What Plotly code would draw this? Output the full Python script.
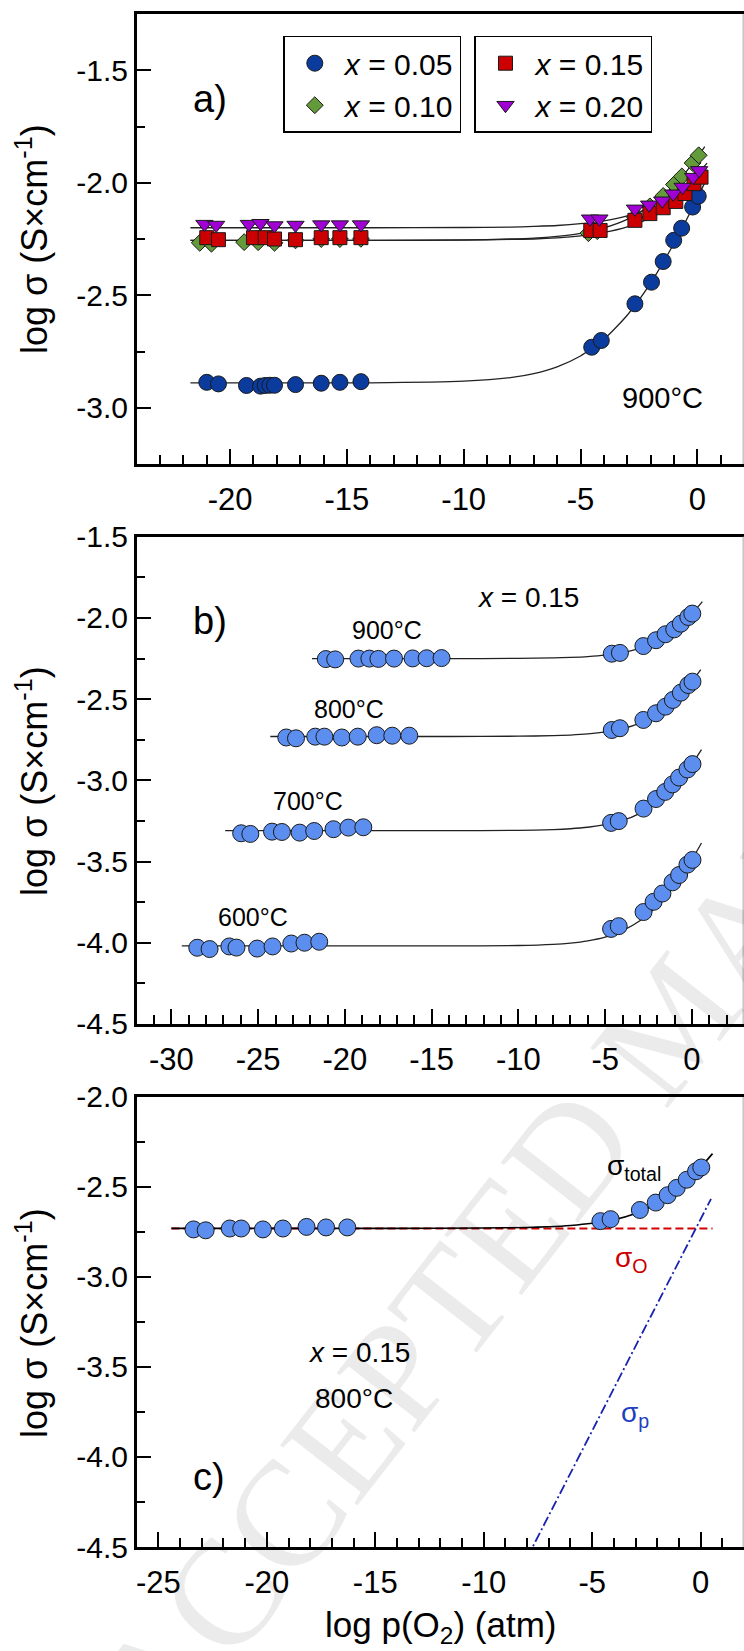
import plotly.graph_objects as go

W, H = 744, 1651
FONT = "Liberation Sans, Arial, Helvetica, sans-serif"

# ---------------- Panel a: 900 C, different x ----------------
a005_x = [-21.0, -20.5, -19.3, -18.7, -18.5, -18.3, -18.1, -17.2, -16.1, -15.3, -14.4,
          -4.52, -4.11, -2.67, -1.96, -1.46, -1.01, -0.67, -0.20, 0.04]
a005_y = [-2.887, -2.894, -2.901, -2.904, -2.901, -2.900, -2.900, -2.897, -2.891, -2.887, -2.884,
          -2.731, -2.701, -2.538, -2.442, -2.350, -2.256, -2.202, -2.108, -2.060]
a010_x = [-21.3, -20.8, -19.4, -18.8, -18.1, -17.2, -16.1, -15.3, -14.4,
          -4.66, -4.28, -2.67, -2.03, -1.46, -1.00, -0.66, -0.20, 0.06]
a010_y = [-2.267, -2.271, -2.264, -2.264, -2.267, -2.256, -2.250, -2.250, -2.249,
          -2.224, -2.215, -2.153, -2.105, -2.059, -2.008, -1.972, -1.912, -1.878]
a015_x = [-21.0, -20.5, -19.0, -18.5, -18.1, -17.2, -16.1, -15.3, -14.4,
          -4.56, -4.16, -2.67, -2.03, -1.46, -0.92, -0.53, -0.14, 0.16]
a015_y = [-2.244, -2.253, -2.244, -2.244, -2.250, -2.253, -2.244, -2.244, -2.244,
          -2.212, -2.212, -2.167, -2.137, -2.111, -2.083, -2.048, -2.004, -1.975]
a020_x = [-21.1, -20.6, -19.2, -18.7, -18.1, -17.2, -16.1, -15.3, -14.4,
          -4.59, -4.19, -2.67, -2.06, -1.50, -1.03, -0.63, -0.18, 0.08]
a020_y = [-2.184, -2.188, -2.184, -2.180, -2.190, -2.188, -2.186, -2.186, -2.186,
          -2.160, -2.160, -2.116, -2.098, -2.080, -2.049, -2.019, -1.975, -1.945]

# fitted curves
afit_x = [-21.7, -14, -10, -8, -7, -6, -5, -4, -3, -2, -1, -0.5, 0]
afit005_y = [-2.889, -2.889, -2.882, -2.866, -2.848, -2.818, -2.770, -2.696, -2.589, -2.446, -2.270, -2.172, -2.069, -2.004]
afit010_y = [-2.256, -2.256, -2.254, -2.250, -2.246, -2.238, -2.225, -2.201, -2.163, -2.103, -2.012, -1.954, -1.887, -1.839]
afit015_y = [-2.256, -2.256, -2.255, -2.252, -2.250, -2.245, -2.236, -2.221, -2.196, -2.155, -2.090, -2.046, -1.994, -1.943]
afit020_y = [-2.200, -2.200, -2.199, -2.197, -2.194, -2.190, -2.182, -2.169, -2.147, -2.109, -2.050, -2.009, -1.961, -1.913]
afit_end = {"005": 0.3, "010": 0.32, "015": 0.42, "020": 0.42}

# ---------------- Panel b: x = 0.15, four temperatures ----------------
b900_x = [-21.10, -20.56, -19.22, -18.59, -18.07, -17.17, -16.10, -15.29, -14.43,
          -4.62, -4.15, -2.80, -2.07, -1.52, -1.02, -0.64, -0.21, 0.02]
b900_y = [-2.253, -2.255, -2.250, -2.250, -2.252, -2.250, -2.249, -2.248, -2.247,
          -2.220, -2.215, -2.173, -2.137, -2.100, -2.070, -2.035, -1.994, -1.973]
b800_x = [-23.38, -22.82, -21.71, -21.18, -20.18, -19.26, -18.17, -17.27, -16.29,
          -4.62, -4.15, -2.80, -2.07, -1.52, -1.10, -0.64, -0.21, 0.03]
b800_y = [-2.736, -2.741, -2.731, -2.731, -2.736, -2.731, -2.722, -2.725, -2.725,
          -2.690, -2.679, -2.628, -2.587, -2.546, -2.505, -2.460, -2.413, -2.392]
b700_x = [-25.98, -25.45, -24.20, -23.63, -22.61, -21.77, -20.66, -19.80, -18.94,
          -4.66, -4.22, -2.79, -2.07, -1.54, -1.12, -0.74, -0.26, 0.03]
b700_y = [-3.326, -3.330, -3.316, -3.318, -3.322, -3.312, -3.301, -3.291, -3.289,
          -3.262, -3.251, -3.174, -3.115, -3.071, -3.025, -2.983, -2.933, -2.900]
b600_x = [-28.51, -27.80, -26.66, -26.25, -25.06, -24.17, -23.09, -22.33, -21.48,
          -4.66, -4.22, -2.79, -2.21, -1.70, -1.12, -0.74, -0.26, 0.03]
b600_y = [-4.031, -4.039, -4.023, -4.030, -4.036, -4.023, -4.005, -4.000, -3.994,
          -3.915, -3.898, -3.811, -3.748, -3.697, -3.628, -3.583, -3.519, -3.490]

bfit_x = [-14, -10, -8, -7, -6, -5, -4, -3, -2, -1, -0.5, 0]
bfit900 = dict(start=-21.9, end=0.60,
               y=[-2.250, -2.250, -2.249, -2.246, -2.243, -2.238, -2.229, -2.213, -2.187, -2.143, -2.075, -2.030, -1.975, -1.899])
bfit800 = dict(start=-24.3, end=0.51,
               y=[-2.730, -2.730, -2.728, -2.725, -2.721, -2.714, -2.702, -2.682, -2.647, -2.592, -2.509, -2.455, -2.391, -2.318])
bfit700 = dict(start=-26.9, end=0.55,
               y=[-3.310, -3.310, -3.308, -3.303, -3.298, -3.289, -3.273, -3.247, -3.203, -3.135, -3.035, -2.972, -2.900, -2.811])
bfit600 = dict(start=-29.4, end=0.55,
               y=[-4.020, -4.020, -4.017, -4.010, -4.002, -3.988, -3.965, -3.926, -3.865, -3.774, -3.648, -3.572, -3.488, -3.386])

# ---------------- Panel c: x = 0.15, 800 C, components ----------------
c_x = b800_x
c_y = b800_y
ctot_x = [-24.4, -14, -10, -8, -7, -6, -5, -4, -3, -2, -1, -0.5, 0, 0.55]
ctot_y = [-2.730, -2.730, -2.728, -2.725, -2.721, -2.714, -2.702, -2.682, -2.647, -2.592, -2.509, -2.455, -2.391, -2.315]
cO_x = [-24.4, 0.55]
cO_y = [-2.731, -2.731]
cp_x = [-8.0, 0.48]
cp_y = [-4.56, -2.566]

# tick labels
a_xt = [-20, -15, -10, -5, 0]
a_yt = [-3.0, -2.5, -2.0, -1.5]
b_xt = [-30, -25, -20, -15, -10, -5, 0]
b_yt = [-4.5, -4.0, -3.5, -3.0, -2.5, -2.0, -1.5]
c_xt = [-25, -20, -15, -10, -5, 0]
c_yt = [-4.5, -4.0, -3.5, -3.0, -2.5, -2.0]

C_BLUE = "#0b3b9c"
C_GREEN = "#639a3a"
C_RED = "#cc0000"
C_PURPLE = "#a000d4"
C_LIGHT = "#5b8eee"
EDGE = "#1a1a1a"
FITC = "#222222"

fig = go.Figure()


def fit(x, y, xa, ya, width=1.3, color=FITC):
    fig.add_trace(go.Scatter(x=x, y=y, mode="lines", xaxis=xa, yaxis=ya,
                             line=dict(color=color, width=width, shape="spline", smoothing=0.6),
                             showlegend=False, hoverinfo="skip"))


def pts(x, y, xa, ya, color, symbol, size, name=None, legend=None):
    fig.add_trace(go.Scatter(x=x, y=y, mode="markers", xaxis=xa, yaxis=ya, name=name,
                             marker=dict(color=color, symbol=symbol, size=size,
                                         line=dict(color=EDGE, width=1)),
                             showlegend=name is not None, legend=legend))


# panel a curves
fit(afit_x + [afit_end["005"]], afit005_y, "x", "y")
fit(afit_x + [afit_end["010"]], afit010_y, "x", "y")
fit(afit_x + [afit_end["015"]], afit015_y, "x", "y")
fit(afit_x + [afit_end["020"]], afit020_y, "x", "y")
pts(a005_x, a005_y, "x", "y", C_BLUE, "circle", 16, "<i>x</i> = 0.05", "legend")
pts(a010_x, a010_y, "x", "y", C_GREEN, "diamond", 13, "<i>x</i> = 0.10", "legend")
pts(a015_x, a015_y, "x", "y", C_RED, "square", 14, "<i>x</i> = 0.15", "legend2")
pts(a020_x, a020_y, "x", "y", C_PURPLE, "triangle-down", 15, "<i>x</i> = 0.20", "legend2")
# panel b
for f in [bfit900, bfit800, bfit700, bfit600]:
    fit([f["start"]] + bfit_x + [f["end"]], f["y"], "x2", "y2")
for bx, by in [(b900_x, b900_y), (b800_x, b800_y), (b700_x, b700_y), (b600_x, b600_y)]:
    pts(bx, by, "x2", "y2", C_LIGHT, "circle", 17)
# panel c
fig.add_trace(go.Scatter(x=cO_x, y=cO_y, mode="lines", xaxis="x3", yaxis="y3",
                         line=dict(color="#d40000", width=2, dash="8px,4px"), showlegend=False))
fig.add_trace(go.Scatter(x=cp_x, y=cp_y, mode="lines", xaxis="x3", yaxis="y3",
                         line=dict(color="#1a22b0", width=1.8, dash="10px,3px,2px,3px"), showlegend=False))
fit(ctot_x, ctot_y, "x3", "y3", width=1.6, color="black")
pts(c_x, c_y, "x3", "y3", C_LIGHT, "circle", 17)


def xax(rng, tv, anchor):
    return dict(domain=[136.7 / W, 1.0], range=rng, anchor=anchor,
                tickmode="array", tickvals=tv, ticktext=["%d" % v for v in tv],
                ticks="inside", ticklen=15, tickwidth=2, tickcolor="black",
                minor=dict(dtick=1, tick0=0, ticks="inside", ticklen=9, tickwidth=1.6, tickcolor="black"),
                showline=True, linewidth=2.5, linecolor="black", mirror=True,
                showgrid=False, zeroline=False, ticklabelstandoff=6,
                tickfont=dict(family=FONT, size=31, color="black"))


def yax(domain_y, rng, tv, anchor):
    return dict(domain=domain_y, range=rng, anchor=anchor,
                tickmode="array", tickvals=tv, ticktext=["%.1f" % v for v in tv],
                ticks="inside", ticklen=15, tickwidth=2, tickcolor="black",
                minor=dict(dtick=0.25, tick0=0, ticks="inside", ticklen=9, tickwidth=1.6, tickcolor="black"),
                showline=True, linewidth=2.5, linecolor="black", mirror=False,
                showgrid=False, zeroline=False,
                tickfont=dict(family=FONT, size=30, color="black"))


def dom(top, bottom):
    return [1 - bottom / H, 1 - top / H]


da = dom(14, 464)
db = dom(536.8, 1023.9)
dc = dom(1096.9, 1547)

fig.update_layout(
    xaxis=xax([-24, 2], a_xt, "y"), yaxis=yax(da, [-3.25, -1.25], a_yt, "x"),
    xaxis2=xax([-32, 3], b_xt, "y2"), yaxis2=yax(db, [-4.5, -1.5], b_yt, "x2"),
    xaxis3=xax([-26, 2], c_xt, "y3"), yaxis3=yax(dc, [-4.5, -2.0], c_yt, "x3"),
)

# faint right border (cut-off right frame)
shapes = []
for d in (da, db, dc):
    shapes.append(dict(type="line", xref="paper", yref="paper", x0=743.2 / W, x1=743.2 / W,
                       y0=d[0], y1=d[1], line=dict(color="#c4c4c4", width=1.5)))


def ann(text, px, py, size, color="black", **kw):
    d = dict(text=text, x=px / W, y=1 - py / H, xref="paper", yref="paper", showarrow=False,
             font=dict(family=FONT, size=size, color=color), xanchor="center", yanchor="middle")
    d.update(kw)
    return d


ytitle = "log σ (S×cm<sup>-1</sup>)"
annotations = [
    dict(text="ACCEPTED MANUSCRIPT", x=672 / W, y=1 - 1020 / H, xref="paper", yref="paper",
         showarrow=False, textangle=-52, xanchor="center", yanchor="middle",
         font=dict(family="Liberation Serif, Times New Roman, serif", size=150, color="rgba(0,0,0,0.08)")),
    ann("a)", 210, 99, 38), ann("b)", 210, 621, 38), ann("c)", 209, 1477, 38),
    ann("900°C", 662, 398, 29),
    ann("<i>x</i> = 0.15", 528, 597, 28),
    ann("900°C", 387, 630, 25), ann("800°C", 349, 709, 25),
    ann("700°C", 308, 801, 25), ann("600°C", 253, 917, 25),
    ann("σ<sub>total</sub>", 634, 1167, 28),
    ann("σ<sub>O</sub>", 631, 1259, 28, color="#cc0000"),
    ann("σ<sub>p</sub>", 635, 1414, 28, color="#1f3fbf"),
    ann("<i>x</i> = 0.15", 359, 1352, 28), ann("800°C", 354, 1398, 28),
    ann(ytitle, 32, 239, 36, textangle=-90),
    ann(ytitle, 32, 781, 36, textangle=-90),
    ann(ytitle, 32, 1323, 36, textangle=-90),
    ann("log p(O<sub>2</sub>) (atm)", 440, 1627, 35),
]

legend_common = dict(xanchor="left", yanchor="top", bordercolor="black", borderwidth=1.5,
                     bgcolor="white", font=dict(family=FONT, size=30, color="black"),
                     itemwidth=50, tracegroupgap=0)
fig.update_layout(
    width=W, height=H, margin=dict(l=0, r=0, t=0, b=0, autoexpand=False),
    paper_bgcolor="white", plot_bgcolor="white",
    annotations=annotations, shapes=shapes,
    legend=dict(x=283.3 / W, y=1 - 35.7 / H, **legend_common),
    legend2=dict(x=474 / W, y=1 - 35.7 / H, **legend_common),
    font=dict(family=FONT, color="black"),
)

fig.write_html("out.html")
